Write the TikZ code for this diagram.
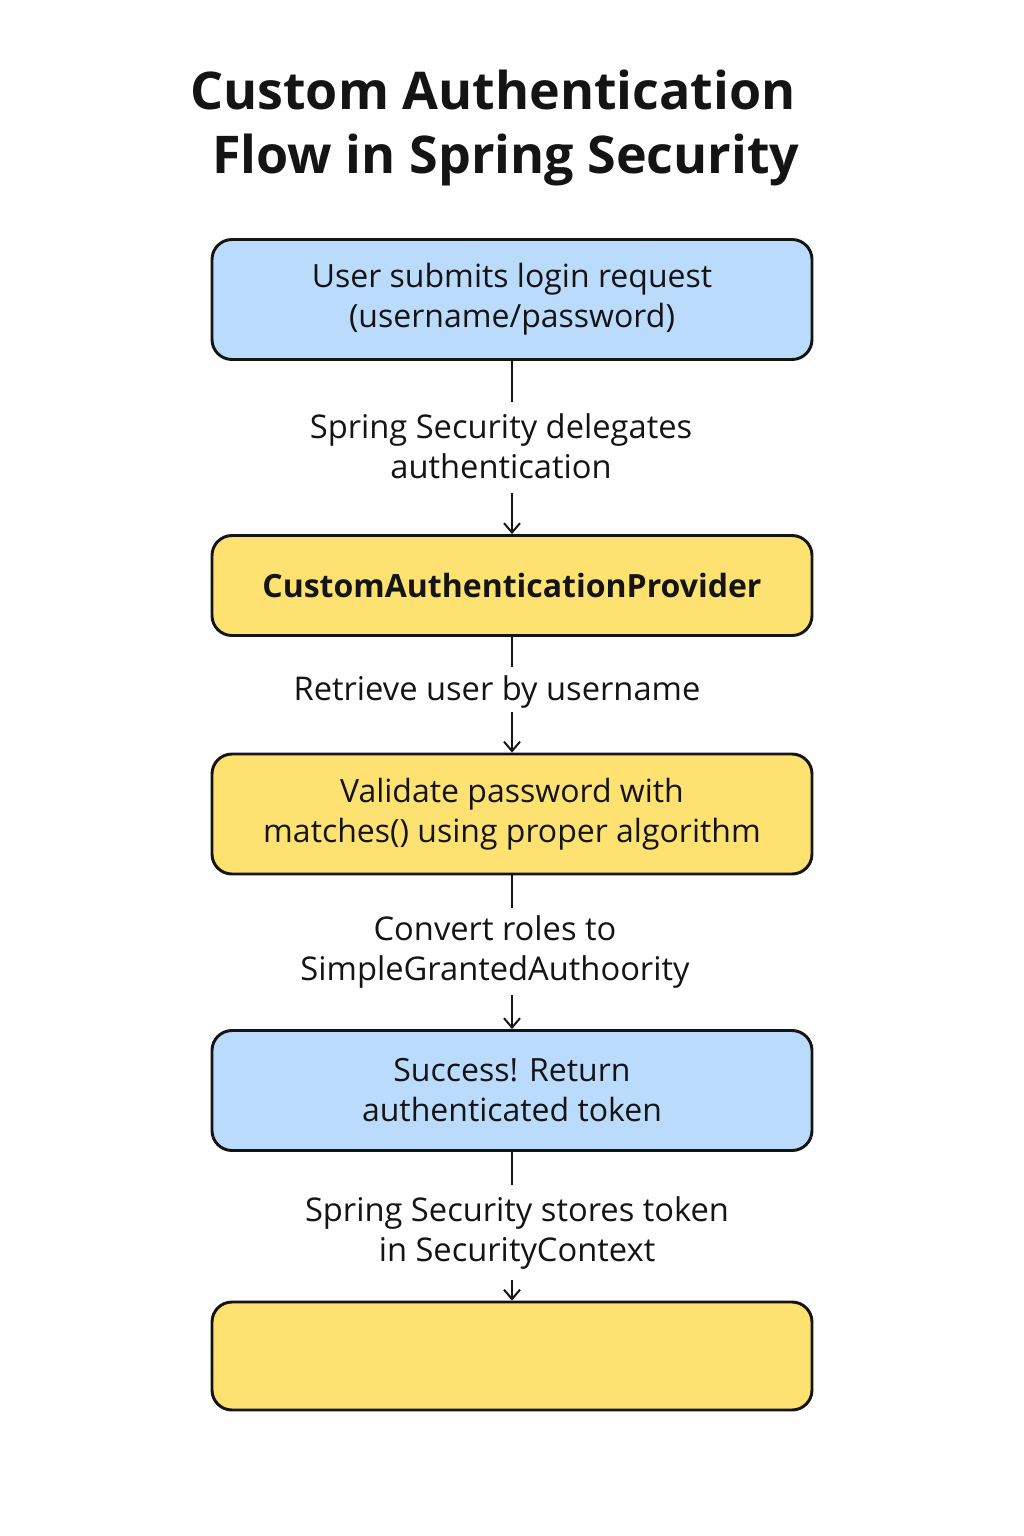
\documentclass[tikz,border=0pt]{standalone}
\usepackage{fontspec}
\setmainfont{Open Sans}
\usetikzlibrary{arrows.meta}
\definecolor{boxblue}{HTML}{BBDBFC}
\definecolor{boxyellow}{HTML}{FDE272}
\definecolor{inkc}{HTML}{141414}
\begin{document}
\begin{tikzpicture}[x=0.75pt,y=-0.75pt,
  box/.style={draw=inkc,line width=2.2pt,rounded corners=15pt,minimum width=450pt,inner sep=0pt,align=center,font=\fontsize{24}{30}\selectfont,text=inkc},
  bluebox/.style={box,fill=boxblue},
  yellowbox/.style={box,fill=boxyellow},
  lbl/.style={align=center,font=\fontsize{24.5}{30}\selectfont,text=inkc,inner sep=0pt},
  ttl/.style={font=\fontsize{39}{48}\selectfont\bfseries,text=inkc,inner sep=0pt},
  conn/.style={draw=inkc,line width=1.5pt},
  arr/.style={conn,-{Straight Barb[length=7pt,width=12pt,line width=1.5pt]}}]
\useasboundingbox (0,0) rectangle (1024,1536);
\fill[white] (0,0) rectangle (1024,1536);
\node[ttl] (t1) at (493,90) {Custom Authentication};
\node[ttl] (t2) at (506,160) {Flow in Spring Security};
\node[bluebox,minimum height=90pt] (b1) at (512,299.5) {User submits login request\\(username/password)};
\node[yellowbox,minimum height=75pt,font=\fontsize{24}{30}\selectfont\bfseries] (b2) at (512,585.5) {CustomAuthenticationProvider};
\node[yellowbox,minimum height=90pt] (b3) at (512,814) {Validate password with\\matches() using proper algorithm};
\node[bluebox,minimum height=90pt] (b4) at (512,1090.5) {Success! Return\\authenticated token};
\node[yellowbox,minimum height=81pt] (b5) at (512,1356) {};
\node[lbl] (l1) at (501,446) {Spring Security delegates\\authentication};
\node[lbl] (l2) at (497,692) {Retrieve user by username};
\node[lbl] (l3) at (495,952) {Convert roles to\\SimpleGrantedAuthoority};
\node[lbl] (l4) at (517,1233) {Spring Security stores token\\in SecurityContext};
\coordinate (c1a) at (512,402); \coordinate (c1b) at (512,493);
\coordinate (c2a) at (512,667); \coordinate (c2b) at (512,712);
\coordinate (c3a) at (512,908); \coordinate (c3b) at (512,995);
\coordinate (c4a) at (512,1185); \coordinate (c4b) at (512,1280);
\draw[conn] (b1.south) -- (c1a); \draw[arr] (c1b) -- (b2.north);
\draw[conn] (b2.south) -- (c2a); \draw[arr] (c2b) -- (b3.north);
\draw[conn] (b3.south) -- (c3a); \draw[arr] (c3b) -- (b4.north);
\draw[conn] (b4.south) -- (c4a); \draw[arr] (c4b) -- (b5.north);
\end{tikzpicture}
\end{document}
